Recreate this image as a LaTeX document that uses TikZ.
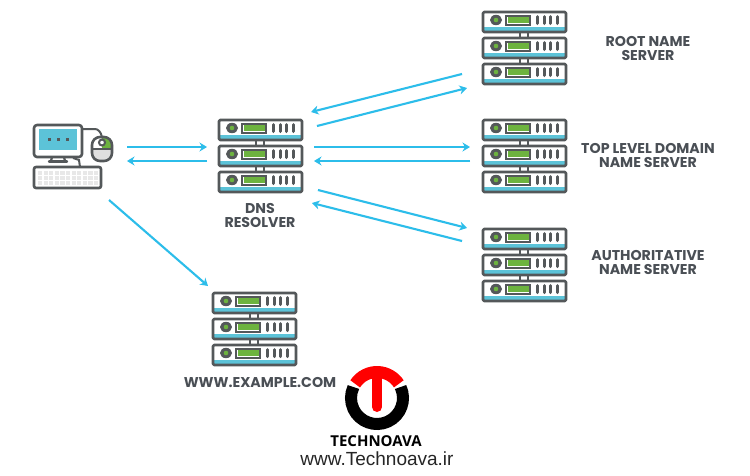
\documentclass[tikz,border=0pt]{standalone}
\usepackage{fontspec}
\setmainfont{Poppins}
\newfontfamily\urlfont{Liberation Sans}
\newfontfamily\brandfont{Open Sans}
\usetikzlibrary{arrows.meta}
\definecolor{edge}{HTML}{54585A}
\definecolor{flowc}{HTML}{2CBDEA}
\definecolor{ledg}{HTML}{6DB33F}
\definecolor{stripe}{HTML}{5CC3D8}
\definecolor{labelc}{HTML}{4A4F55}
\tikzset{
  x=1pt,y=-1pt,
  flow/.style={draw=flowc,line width=2.1pt,-{Stealth[length=7.5pt,width=9pt]}},
  caption/.style={font=\bfseries\fontsize{14.2}{14}\selectfont,text=labelc,align=center,inner sep=0pt},
  hw/.style={draw=edge,line width=2.6pt,line join=round,rounded corners=1.2pt},
  server/.pic={
    \foreach \yy in {0,26,52}{
      \begin{scope}[yshift=-\yy pt]
        \fill[white,rounded corners=1.2pt] (0,0) rectangle (83,20);
        \fill[stripe] (1,15) rectangle (82,19);
        \draw[hw] (0,0) rectangle (83,20);
        \fill[edge] (13,8) ellipse (6 and 5.2);
        \fill[ledg] (13,8) circle (2.3);
        \draw[draw=edge,line width=2pt] (23,3.5) rectangle (47,12.5);
        \fill[ledg] (24.5,5) rectangle (45.5,11);
        \foreach \xx in {54.5,61,67.5,74}
          \draw[edge,line width=3pt,line cap=round] (\xx,4.5) -- (\xx,11.5);
      \end{scope}
    }
    \foreach \yy in {20,46}{
      \draw[edge,line width=2.6pt] (37,\yy) -- (37,\yy+6) (45,\yy) -- (45,\yy+6);
    }
  }
}
\begin{document}
\begin{tikzpicture}
\useasboundingbox (0,0) rectangle (750,475);
\fill[white] (0,0) rectangle (750,475);

% servers
\pic at (483,12) {server};
\pic at (483,120) {server};
\pic at (483,229) {server};
\pic at (219,120) {server};
\pic at (213,293) {server};

% computer
\draw[edge,line width=2pt,rounded corners=2pt] (83,129) -- (93,129) .. controls (98,129) and (101,132) .. (102,137);
\draw[edge,line width=2pt] (73,158) -- (79,160) -- (80,167);
\fill[white] (33,124) rectangle (83,158);
\draw[hw,rounded corners=3pt] (34,125) rectangle (82,157);
\fill[stripe] (39,129) rectangle (77,150);
\foreach \xx in {49,58,67} \fill[edge] (\xx-1.5,137.5) rectangle (\xx+1.5,140.5);
\draw[edge,line width=2.2pt] (52,157) -- (51,161) (64,157) -- (65,161);
\draw[edge,line width=2.4pt,line cap=round] (49,161.5) -- (67,161.5);
% mouse
\begin{scope}
  \clip[rounded corners=8pt] (92,137) rectangle (112,161);
  \fill[gray!25] (92,149) rectangle (112,161);
  \fill[ledg] (102,137) rectangle (112,149);
\end{scope}
\draw[hw,rounded corners=8pt] (92,137) rectangle (112,161);
\draw[edge,line width=2pt] (92,149) -- (112,149);
\draw[edge,line width=2pt,fill=white] (102,142.5) circle (3);
% keyboard
\draw[hw,rounded corners=2pt,fill=white] (34,167) rectangle (101,188);
\foreach \yy in {171,176,181}
  \foreach \xx in {38,43.6,49.2,54.8,60.4,66,71.6,77.2,82.8,88.4,94}
    \fill[gray!18] (\xx,\yy) rectangle (\xx+4.2,\yy+3.5);

% connector ends
\coordinate (pcOutA) at (127,147);
\coordinate (dnsInA) at (207,147);
\coordinate (dnsOutA) at (207,161);
\coordinate (pcInA) at (127,161);
\coordinate (pcOutB) at (109,200);
\coordinate (exIn) at (208,286);
\coordinate (rootOut) at (462,74);
\coordinate (dnsInR) at (311,112);
\coordinate (dnsOutR) at (317,126);
\coordinate (rootIn) at (467,88);
\coordinate (dnsOutT) at (314,147);
\coordinate (tldIn) at (470,147);
\coordinate (tldOut) at (470,161);
\coordinate (dnsInT) at (314,161);
\coordinate (dnsOutU) at (318,190);
\coordinate (authIn) at (467,228);
\coordinate (authOut) at (462,241);
\coordinate (dnsInU) at (312,203);

\draw[flow] (pcOutA) -- (dnsInA);
\draw[flow] (dnsOutA) -- (pcInA);
\draw[flow] (pcOutB) -- (exIn);
\draw[flow] (rootOut) -- (dnsInR);
\draw[flow] (dnsOutR) -- (rootIn);
\draw[flow] (dnsOutT) -- (tldIn);
\draw[flow] (tldOut) -- (dnsInT);
\draw[flow] (dnsOutU) -- (authIn);
\draw[flow] (authOut) -- (dnsInU);

% labels
\node[caption] (lroot) at (648,48.5) {ROOT NAME\\SERVER};
\node[caption] (ltld) at (648,155.5) {TOP LEVEL DOMAIN\\NAME SERVER};
\node[caption] (lauth) at (648,262.5) {AUTHORITATIVE\\NAME SERVER};
\node[caption] (ldns) at (260,215.5) {DNS\\RESOLVER};
\node[caption] (lex) at (260,382.5) {WWW.EXAMPLE.COM};

% logo (angles run clockwise because the y axis points down)
\draw[black,line width=12pt] (377,398) ++(-25:26) arc[start angle=-25,end angle=205,radius=26];
\draw[red,line width=12pt] (377,398) ++(213:26) arc[start angle=213,end angle=327,radius=26];
\draw[red,line width=10pt,line cap=round] (377,375) -- (377,407);
\node[font=\brandfont\bfseries\fontsize{15}{15}\selectfont,text=black,inner sep=0pt] (brand) at (376,441) {TECHNOAVA};
\node[font=\urlfont\fontsize{19}{19}\selectfont,text=black!85,inner sep=0pt] (url) at (377,459) {www.Technoava.ir};
\end{tikzpicture}
\end{document}
